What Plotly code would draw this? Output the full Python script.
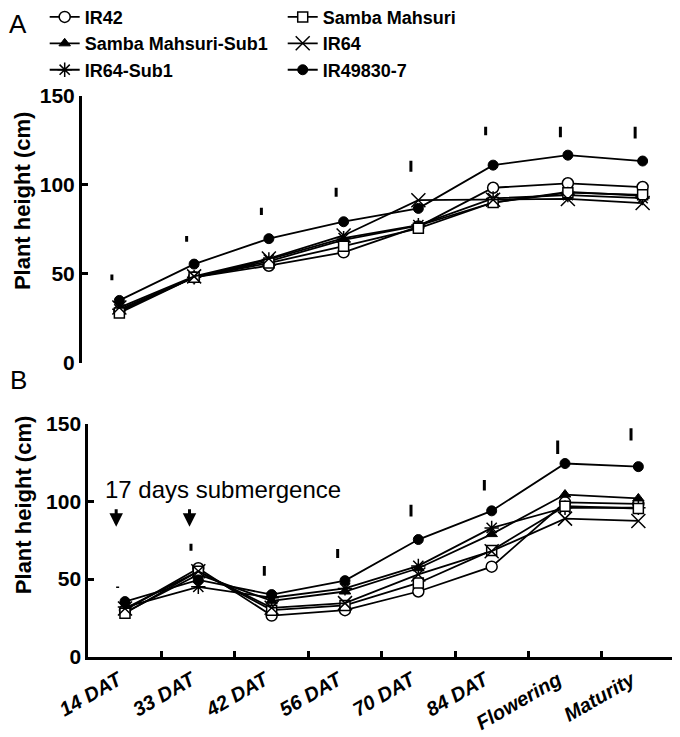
import plotly.graph_objects as go

categories = ["14 DAT", "33 DAT", "42 DAT", "56 DAT", "70 DAT", "84 DAT", "Flowering", "Maturity"]
varieties = ["IR42", "Samba Mahsuri", "Samba Mahsuri-Sub1", "IR64", "IR64-Sub1", "IR49830-7"]

# Panel A (control) plant height, cm
ir42_a = [29, 48, 54.5, 62, 76.5, 98.3, 100.8, 98.7]
samba_a = [28, 48, 56, 65.5, 75.5, 90, 95.5, 94.3]
samba_sub1_a = [29, 48, 57, 69, 77, 90, 96, 93.8]
ir64_a = [31, 48.5, 58.5, 71.5, 91.3, 91.5, 92, 89.7]
ir64_sub1_a = [30, 48, 58, 70, 77.3, 92.3, 94.2, 92.5]
ir49830_a = [35, 55.4, 69.7, 79.2, 86.7, 111, 116.6, 113.3]

# Panel B (17 days submergence) plant height, cm
ir42_b = [30, 57, 26.5, 30, 42, 58, 99.5, 98.5]
samba_b = [28, 55, 30, 33, 47.5, 68.5, 97, 95.5]
samba_sub1_b = [28.5, 53, 36, 42, 57, 79, 104.5, 102]
ir64_b = [31, 55, 31.5, 34.5, 53, 68, 89, 87.5]
ir64_sub1_b = [32, 45, 38, 44, 58.5, 83, 96, 96]
ir49830_b = [35.5, 49.5, 40, 49, 75.5, 94, 124.5, 122.5]

# LSD bars: centre value and full length
lsd_a_pos = [47.9, 69.6, 85, 95.8, 110.4, 130.2, 129.6, 129.3]
lsd_a_len = [3.2, 3.2, 4, 5, 6.2, 4.7, 6, 6.6]
lsd_b_pos = [44.8, 70.6, 55.3, 66.5, 94.1, 110.5, 135, 143.3]
lsd_b_len = [1, 4.5, 6.4, 5.7, 7.5, 6.9, 8.6, 8]

# submergence arrows
arrow_cats = ["14 DAT", "33 DAT"]
arrow_from = 96
arrow_to = 83.8

series_a = [ir42_a, samba_a, samba_sub1_a, ir64_a, ir64_sub1_a, ir49830_a]
series_b = [ir42_b, samba_b, samba_sub1_b, ir64_b, ir64_sub1_b, ir49830_b]

FONT = "Liberation Sans, Arial, sans-serif"
styles = {
    "IR42": dict(symbol="circle", size=11, color="white", line=dict(color="black", width=1.5)),
    "Samba Mahsuri": dict(symbol="square", size=10, color="white", line=dict(color="black", width=1.5)),
    "Samba Mahsuri-Sub1": dict(symbol="triangle-up", size=10, color="black", line=dict(color="black", width=1)),
    "IR64": dict(symbol="x-thin", size=14, color="black", line=dict(color="black", width=1.5)),
    "IR64-Sub1": dict(symbol="asterisk", size=12, color="black", line=dict(color="black", width=1.5)),
    "IR49830-7": dict(symbol="circle", size=10, color="black", line=dict(color="black", width=1)),
}
legend_of = {"IR42": "legend", "Samba Mahsuri-Sub1": "legend", "IR64-Sub1": "legend",
             "Samba Mahsuri": "legend2", "IR64": "legend2", "IR49830-7": "legend2"}
legend_order = ["IR42", "Samba Mahsuri-Sub1", "IR64-Sub1", "Samba Mahsuri", "IR64", "IR49830-7"]

xi = list(range(len(categories)))
fig = go.Figure()

for name in legend_order:
    k = varieties.index(name)
    for panel, data in (("a", series_a[k]), ("b", series_b[k])):
        fig.add_trace(go.Scatter(
            x=xi, y=data, mode="lines+markers", name=name,
            legendgroup=name, legend=legend_of[name],
            showlegend=(panel == "a"),
            line=dict(color="black", width=1.8),
            marker=styles[name],
            xaxis="x" if panel == "a" else "x2",
            yaxis="y" if panel == "a" else "y2",
        ))

# LSD bars
off = -0.1
for pos, ln, xa, ya in ((lsd_a_pos, lsd_a_len, "x", "y"), (lsd_b_pos, lsd_b_len, "x2", "y2")):
    fig.add_trace(go.Scatter(
        x=[v + off for v in xi], y=pos, mode="markers", showlegend=False,
        marker=dict(size=1, color="rgba(0,0,0,0)"),
        error_y=dict(type="data", array=[l / 2 for l in ln], symmetric=True,
                     width=0, thickness=3, color="black"),
        xaxis=xa, yaxis=ya, hoverinfo="skip",
    ))

yax = dict(range=[0, 150], tickvals=[0, 50, 100, 150], showline=True, linewidth=3,
           linecolor="black", ticks="inside", ticklen=6, tickwidth=3, tickcolor="black",
           showgrid=False, zeroline=False, automargin=False,
           tickfont=dict(family=FONT, size=21, color="black", weight="bold"))

W, H = 672, 729
fig.update_layout(
    width=W, height=H,
    margin=dict(l=0, r=0, t=0, b=0, autoexpand=False),
    plot_bgcolor="white", paper_bgcolor="white",
    xaxis=dict(domain=[0.1101, 1.0], range=[-0.5, 7.5], visible=False, anchor="y"),
    yaxis=dict(domain=[0.5134, 0.8797], anchor="x", **yax),
    xaxis2=dict(domain=[0.1195, 0.9926], range=[-0.5, 7.5], anchor="y2",
                tickvals=xi, ticktext=categories, ticks="", tickangle=-30,
                ticklabelstandoff=1, ticklabelshift=-7,
                showline=True, linewidth=3, linecolor="black", showgrid=False,
                zeroline=False, automargin=False,
                tickfont=dict(family=FONT, size=20, color="black", weight="bold", style="italic"),
                minor=dict(tickvals=[v + 0.5 for v in xi], ticks="inside", ticklen=6,
                           tickwidth=3, tickcolor="black", showgrid=False)),
    yaxis2=dict(domain=[0.1102, 0.4294], anchor="x2", **yax),
    legend=dict(x=0.0546, y=1.0127, xanchor="left", yanchor="top", bgcolor="rgba(0,0,0,0)",
                tracegroupgap=0, itemwidth=30,
                font=dict(family=FONT, size=18, color="black", weight="bold")),
    legend2=dict(x=0.4088, y=1.0127, xanchor="left", yanchor="top", bgcolor="rgba(0,0,0,0)",
                 tracegroupgap=0, itemwidth=30,
                 font=dict(family=FONT, size=18, color="black", weight="bold")),
    showlegend=True,
)

title_font = dict(family=FONT, size=22, color="black", weight="bold")
annotations = [
    dict(text="A", x=0.0, y=1.0, xref="paper", yref="paper", xanchor="left",
         yanchor="top", showarrow=False, borderpad=0,
         font=dict(family=FONT, size=26, color="black")),
    dict(text="B", x=0.0, y=0.4897, xref="paper", yref="paper", xanchor="left",
         yanchor="middle", showarrow=False, font=dict(family=FONT, size=26, color="black")),
    dict(text="Plant height (cm)", x=0.0225, y=0.7353, xref="paper", yref="paper",
         xanchor="center", yanchor="middle", textangle=-90, showarrow=False, font=title_font),
    dict(text="Plant height (cm)", x=0.0225, y=0.3182, xref="paper", yref="paper",
         xanchor="center", yanchor="middle", textangle=-90, showarrow=False, font=title_font),
    dict(text="17 days submergence", x=-0.3, y=108, xref="x2", yref="y2", xanchor="left",
         yanchor="middle", showarrow=False, font=dict(family=FONT, size=24, color="black")),
]
for c in arrow_cats:
    xc = categories.index(c) - 0.12
    annotations.append(dict(text="", x=xc, y=arrow_to, ax=xc, ay=arrow_from,
                            xref="x2", yref="y2", axref="x2", ayref="y2",
                            showarrow=True, arrowhead=2, arrowsize=0.9, arrowwidth=3,
                            arrowcolor="black"))
fig.update_layout(annotations=annotations)

fig.write_html("out.html")
